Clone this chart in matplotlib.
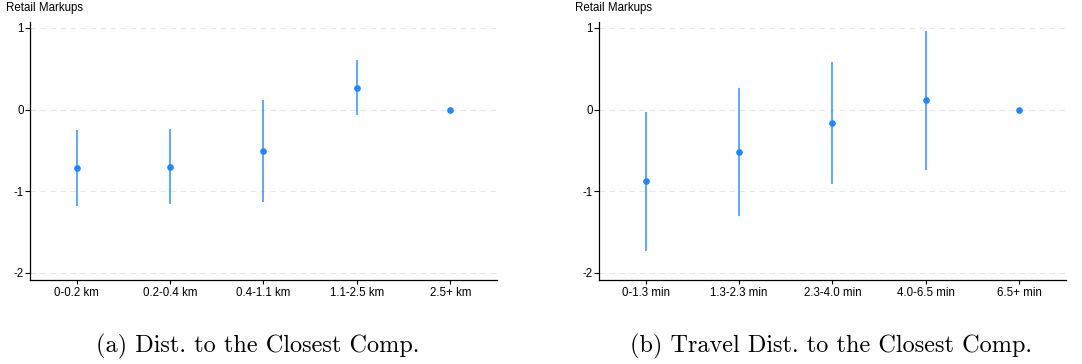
import matplotlib
matplotlib.use("Agg")
import numpy as np
import matplotlib.pyplot as plt

# ---- data ----
dist_labels = ["0-0.2 km", "0.2-0.4 km", "0.4-1.1 km", "1.1-2.5 km", "2.5+ km"]
dist_coef = [-0.714, -0.702, -0.506, 0.269, 0.0]
dist_lo = [-1.18, -1.159, -1.127, -0.065, np.nan]
dist_hi = [-0.245, -0.241, 0.114, 0.608, np.nan]

time_labels = ["0-1.3 min", "1.3-2.3 min", "2.3-4.0 min", "4.0-6.5 min", "6.5+ min"]
time_coef = [-0.878, -0.522, -0.159, 0.114, 0.0]
time_lo = [-1.731, -1.306, -0.910, -0.735, np.nan]
time_hi = [-0.029, 0.261, 0.588, 0.963, np.nan]

y_ticks = [1, 0, -1, -2]
captions = ["(a) Dist. to the Closest Comp.", "(b) Travel Dist. to the Closest Comp."]
caption_x = [0.238, 0.768]

BLUE = "#1e88ff"
SANS = ["Liberation Sans", "DejaVu Sans"]
FS = 8.3

fig = plt.figure(figsize=(10.82, 3.64), dpi=100)
fig.patch.set_facecolor("white")

panels = [
    (0.0277, dist_labels, dist_coef, dist_lo, dist_hi),
    (0.5536, time_labels, time_coef, time_lo, time_hi),
]

for i, (left, labels, coef, lo, hi) in enumerate(panels):
    ax = fig.add_axes([left, 0.2308, 0.4316, 0.7088])
    x = np.arange(1, len(labels) + 1)

    # CI lines
    for xi, l, h in zip(x, lo, hi):
        if not np.isnan(l):
            ax.vlines(xi, l, h, color=BLUE, linewidth=1.2, alpha=0.85, zorder=3)
    ax.plot(x, coef, "o", color=BLUE, markersize=3.8, zorder=4)

    ax.set_xlim(0.5, 5.5)
    ax.set_ylim(-2.086, 1.073)
    ax.set_yticks(y_ticks)
    ax.set_yticklabels([str(t) for t in y_ticks], family=SANS, fontsize=FS)
    ax.set_xticks(x)
    ax.set_xticklabels(labels, family=SANS, fontsize=FS)

    for yt in y_ticks:
        ax.axhline(yt, color="#e6e6e6", linewidth=0.8, linestyle=(0, (5, 4)), zorder=1)

    for s in ["top", "right"]:
        ax.spines[s].set_visible(False)
    ax.spines["left"].set_linewidth(0.9)
    ax.spines["bottom"].set_linewidth(0.9)
    ax.tick_params(axis="y", direction="out", length=3.6, width=0.8, pad=1)
    ax.tick_params(axis="x", direction="out", length=3, width=0.8, pad=2)

    # y axis title written on top, Stata-style
    fig.text(left - 0.022, 0.978, "Retail Markups", family=SANS, fontsize=FS,
             ha="left", va="center")

    # panel caption (LaTeX-like serif)
    fig.text(caption_x[i], 0.047, captions[i],
             family=["cmr10", "DejaVu Serif"], fontsize=17.5, ha="center", va="center")

fig.savefig("out.png", dpi=100, facecolor="white")
